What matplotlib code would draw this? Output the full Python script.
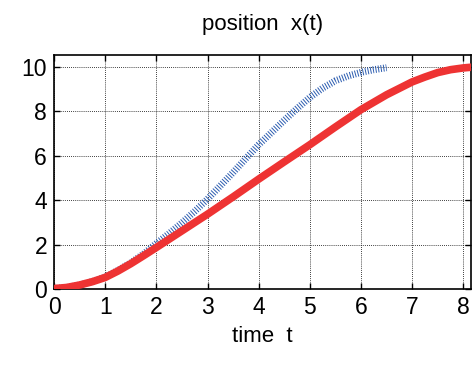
import numpy as np
import matplotlib
matplotlib.use('Agg')
import matplotlib.pyplot as plt

plt.rcParams['font.family'] = ['Liberation Sans', 'DejaVu Sans']

# red curve
t_red = [0.0, 0.25, 0.5, 0.75, 1.0, 1.25, 1.5, 1.75, 2.0, 2.5, 3.0, 3.5, 4.0,
         4.5, 5.0, 5.5, 6.0, 6.5, 7.0, 7.25, 7.5, 7.75, 8.0, 8.2]
x_red = [0.02, 0.07, 0.18, 0.33, 0.52, 0.81, 1.14, 1.5, 1.87, 2.62, 3.37, 4.15,
         4.95, 5.73, 6.5, 7.3, 8.08, 8.75, 9.33, 9.55, 9.75, 9.88, 9.96, 10.0]

# blue curve
t_blue = [0.0, 0.25, 0.5, 0.75, 1.0, 1.25, 1.5, 1.75, 2.0, 2.25, 2.5, 2.75, 3.0,
          3.25, 3.5, 3.75, 4.0, 4.25, 4.5, 4.75, 5.0, 5.25, 5.5, 5.75, 6.0,
          6.25, 6.5]
x_blue = [0.02, 0.07, 0.18, 0.34, 0.54, 0.84, 1.18, 1.58, 2.05, 2.5, 2.98, 3.5,
          4.05, 4.65, 5.25, 5.88, 6.5, 7.05, 7.6, 8.13, 8.63, 9.05, 9.38, 9.6,
          9.76, 9.88, 9.97]

xticks = [0, 1, 2, 3, 4, 5, 6, 7, 8]
yticks = [0, 2, 4, 6, 8, 10]

fig = plt.figure(figsize=(4.75, 3.65), dpi=100)
ax = fig.add_axes([0.1137, 0.2082, 0.8779, 0.641])

ax.plot(t_blue, x_blue, color='#2b5cb0', lw=5, dashes=(0.14, 0.24),
        solid_capstyle='butt', zorder=3)
ax.plot(t_red, x_red, color='#ee3333', lw=5.5, solid_capstyle='butt', zorder=4)

ax.set_xlim(0, 8.15)
ax.set_ylim(0, 10.54)
ax.set_xticks(xticks)
ax.set_yticks(yticks)
ax.tick_params(direction='in', top=True, right=True, labelsize=16.5, length=4,
               width=1, pad=5)
ax.grid(True, color='black', linestyle=(0, (1, 1.5)), linewidth=0.6)
for s in ax.spines.values():
    s.set_linewidth(1.2)

ax.set_title('position  x(t)', fontsize=16, pad=18)
ax.set_xlabel('time  t', fontsize=16, labelpad=5)

fig.savefig('out.png', dpi=100)
